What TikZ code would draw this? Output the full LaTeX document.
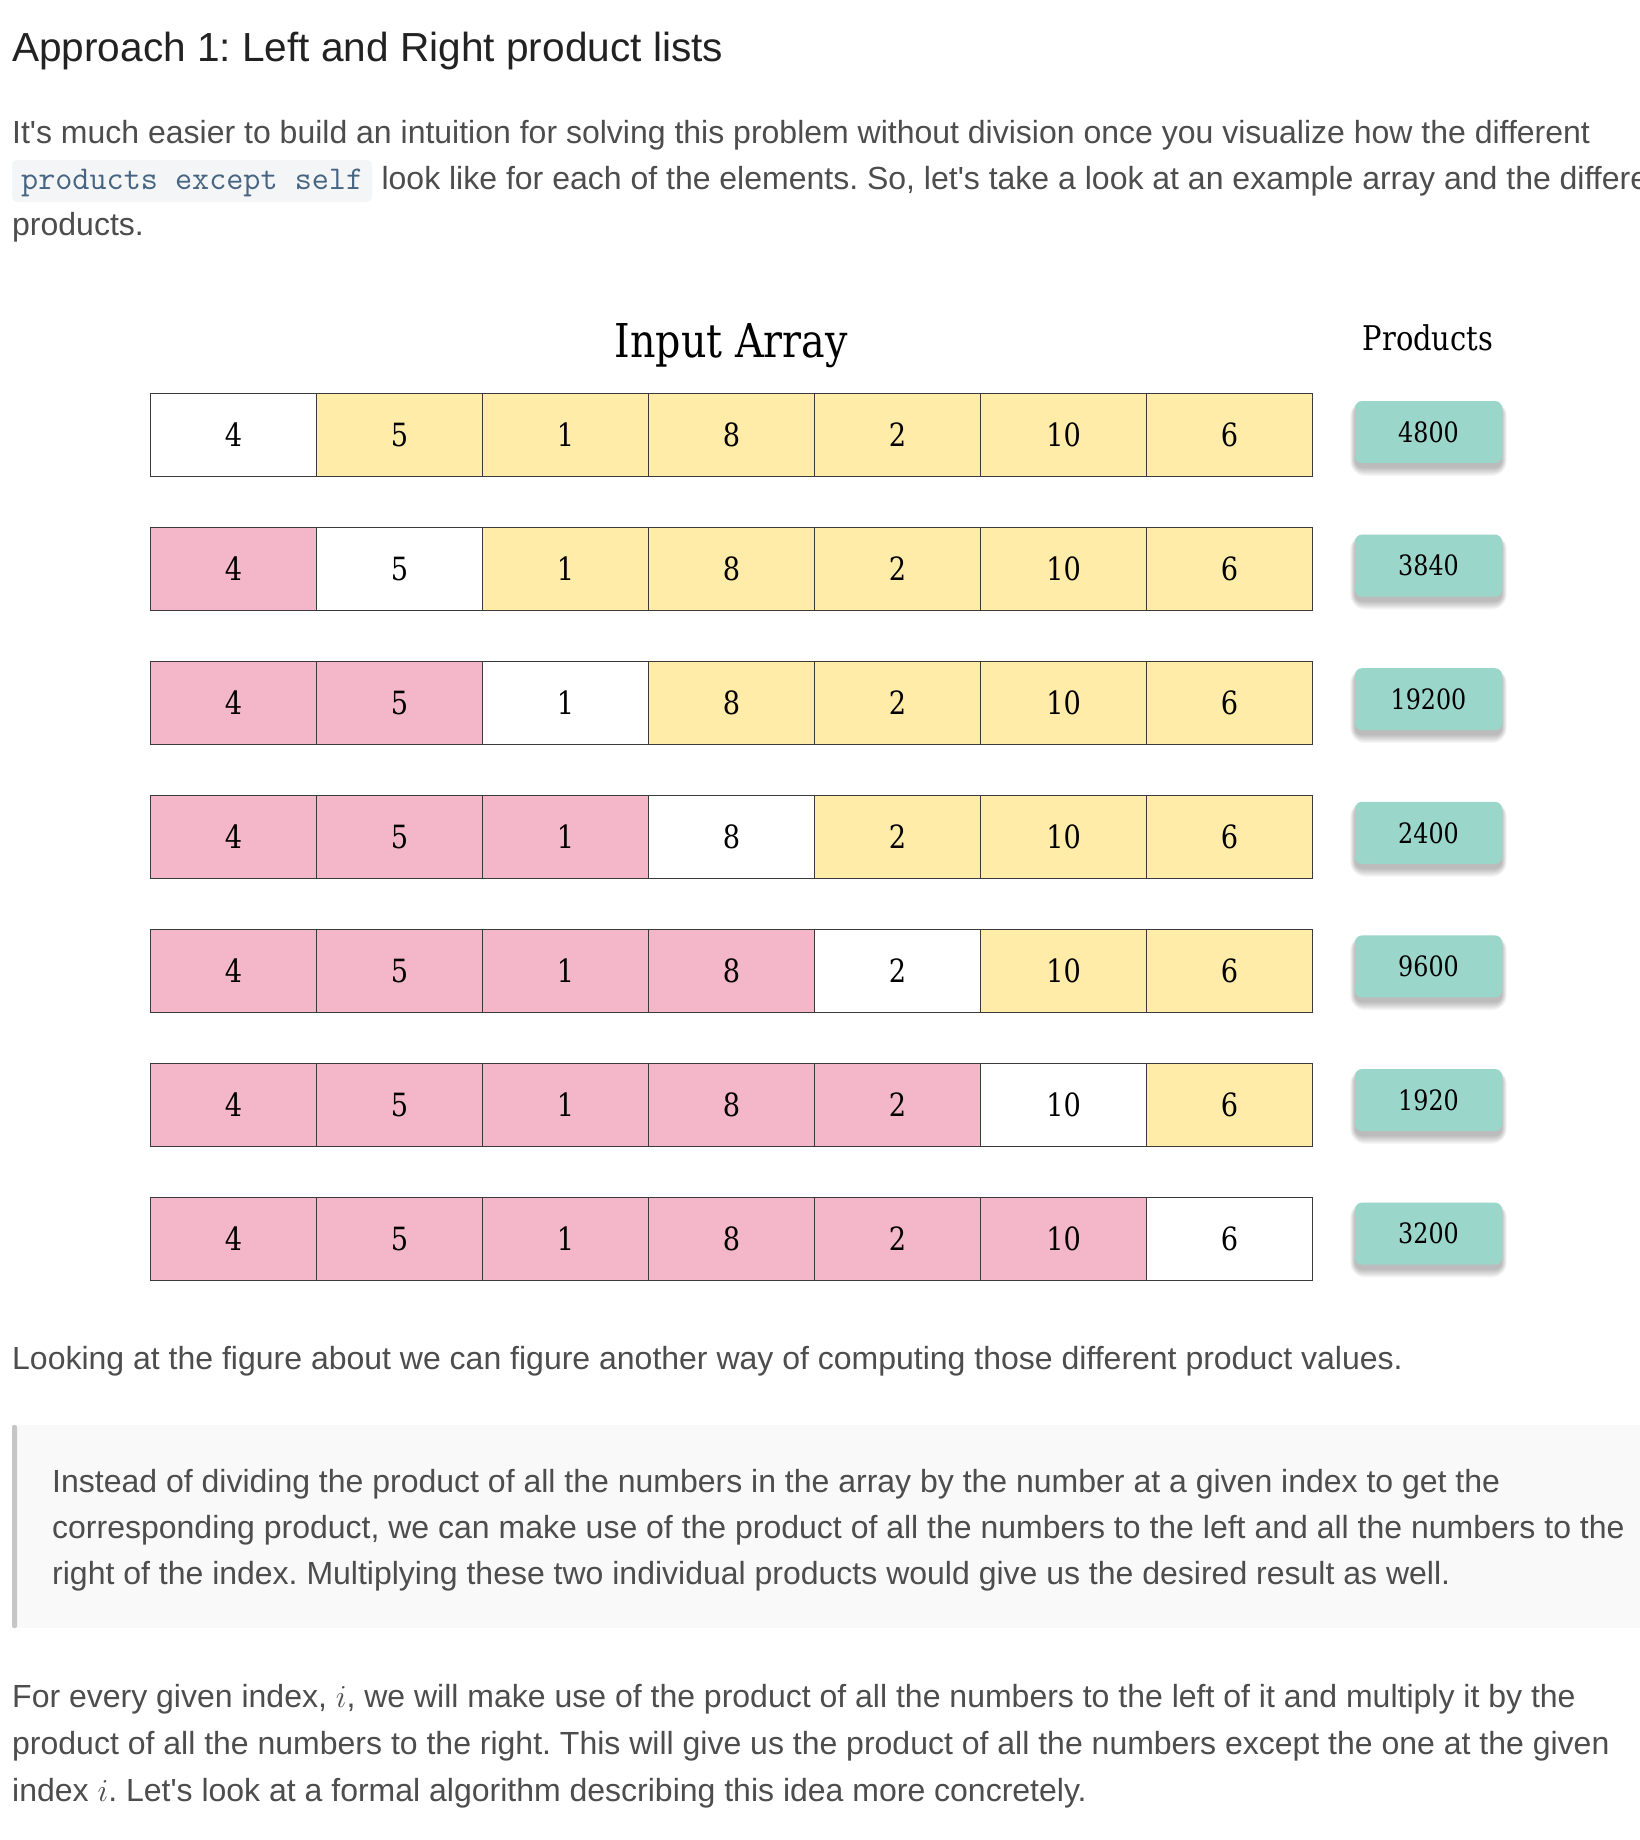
\RequirePackage{fix-cm}
\documentclass[tikz,border=0pt]{standalone}
\usepackage{fontspec}
\setmainfont{Liberation Sans}
\newfontfamily\dserif[FakeStretch=0.85]{DejaVu Serif}
\definecolor{bodytext}{HTML}{4D4D4D}
\definecolor{titletext}{HTML}{222222}
\definecolor{cellyellow}{HTML}{FFECA8}
\definecolor{cellpink}{HTML}{F4B7C9}
\definecolor{prodteal}{HTML}{9BD6CB}
\definecolor{codefg}{HTML}{476582}
\definecolor{codebg}{HTML}{F3F5F7}
\definecolor{quotebg}{HTML}{F9F9F9}
\definecolor{quotebar}{HTML}{C6C6C6}
\definecolor{cellline}{HTML}{3A3A3A}
\newcommand\apos{\textquotesingle}
\begin{document}
\frenchspacing
\begin{tikzpicture}[x=1pt,y=-1pt,
  body/.style={anchor=base west,inner sep=0pt,text=bodytext,font=\fontsize{32}{38}\selectfont},
  cell/.style={draw=cellline,line width=1.2pt,minimum width=166pt,minimum height=83pt,inner sep=0pt,anchor=north west,font=\dserif\fontsize{32}{36}\selectfont,text=black},
  prodbox/.style={fill=prodteal,rounded corners=7pt,minimum width=147pt,minimum height=62pt,inner sep=0pt,font=\dserif\fontsize{28}{32}\selectfont,text=black},
  softshadow/.style={fill=black,opacity=0.03},
]
\useasboundingbox (0,0) rectangle (1640,1840);
\clip (0,0) rectangle (1640,1840);
\fill[white] (0,0) rectangle (1640,1840);

% title and first paragraph
\node[anchor=base west,inner sep=0pt,text=titletext,font=\fontsize{40.6}{48}\selectfont] (title) at (12,61) {Approach 1: Left and Right product lists};
\node[body] (p1a) at (12,143) {It\apos s much easier to build an intuition for solving this problem without division once you visualize how the different};
\node[anchor=base west,fill=codebg,rounded corners=5pt,inner xsep=9pt,inner ysep=0pt,text height=29pt,text depth=13pt,text=codefg,font=\ttfamily\fontsize{33.2}{38}\selectfont] (code) at (12,189) {products except self};
\node[body] (p1b) at ([xshift=9pt]code.base east) {look like for each of the elements. So, let\apos s take a look at an example array and the different};
\node[body] (p1c) at (12,235) {products.};

% headings
\node[anchor=base,inner sep=0pt,font=\dserif\fontsize{46.6}{54}\selectfont] (inarr) at (731,357) {Input Array};
\node[anchor=base,inner sep=0pt,font=\dserif\fontsize{34}{40}\selectfont] (prodlab) at (1428,350) {Products};

% rows
\foreach \r/\p in {1/4800,2/3840,3/19200,4/2400,5/9600,6/1920,7/3200}{
  \foreach \c/\v in {1/4,2/5,3/1,4/8,5/2,6/10,7/6}{
    \pgfmathsetmacro\cx{150+166*(\c-1)}
    \pgfmathsetmacro\cy{393+134*(\r-1)}
    \ifnum\c<\r \def\cf{cellpink}\else\ifnum\c=\r \def\cf{white}\else\def\cf{cellyellow}\fi\fi
    \node[cell,fill=\cf] (c\r-\c) at (\cx,\cy) {\v};
  }
  \pgfmathsetmacro\py{432+133.6*(\r-1)}
  \foreach \k in {0,1,...,8}{
    \fill[softshadow,rounded corners=7+\k] (1355-\k*0.6,\py-27-\k*0.5) rectangle (1502+\k*0.6,\py+36+\k);
  }
  \node[prodbox] (p\r) at (1428.5,\py) {\p};
}

% text after figure
\node[body] (p2) at (12,1369) {Looking at the figure about we can figure another way of computing those different product values.};

% blockquote
\fill[quotebg] (12,1425) rectangle (1700,1628);
\fill[quotebar,rounded corners=2pt] (12,1425) rectangle (17,1628);
\node[body] (q1) at (52,1492) {Instead of dividing the product of all the numbers in the array by the number at a given index to get the};
\node[body] (q2) at (52,1538) {corresponding product, we can make use of the product of all the numbers to the left and all the numbers to the};
\node[body] (q3) at (52,1584) {right of the index. Multiplying these two individual products would give us the desired result as well.};

% last paragraph
\node[body] (p3a) at (12,1707) {For every given index, $i$, we will make use of the product of all the numbers to the left of it and multiply it by the};
\node[body] (p3b) at (12,1754) {product of all the numbers to the right. This will give us the product of all the numbers except the one at the given};
\node[body] (p3c) at (12,1801) {index $i$. Let\apos s look at a formal algorithm describing this idea more concretely.};
\end{tikzpicture}
\end{document}
